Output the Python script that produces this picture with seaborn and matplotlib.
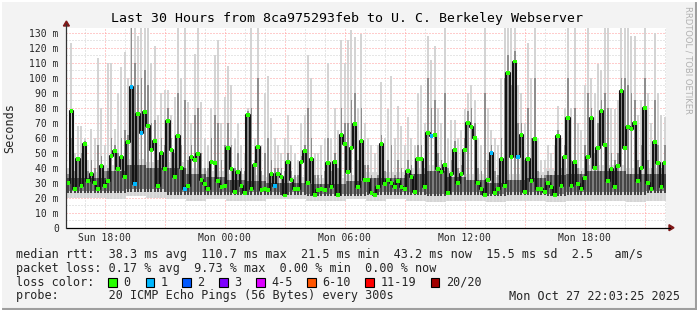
import numpy as np
import pandas as pd
import matplotlib
matplotlib.use("Agg")
import matplotlib.pyplot as plt
import seaborn as sns
from matplotlib.lines import Line2D
from matplotlib.patches import Polygon, Rectangle

sns.set_style("white")
plt.rcParams["font.family"] = ["DejaVu Sans Mono"]

W, H = 697, 310

# ---------------- data ----------------
# time in hours since Sun 00:00, one value per 10-minute step
start_hour = 16.08
step_hours = 1 / 6

median_ms = [
    30, 78, 26, 46, 28, 56, 31, 36, 30, 26, 41, 28, 31, 48, 51, 39, 47, 34, 57, 94, 29, 76, 63, 77, 68, 52, 58, 28, 50, 39,
    71, 52, 34, 61, 40, 26, 28, 47, 45, 49, 32, 29, 26, 44, 43, 31, 27, 28, 53, 39, 24, 37, 28, 23, 75, 26, 42, 54, 25, 26,
    25, 36, 28, 36, 34, 21.5, 44, 32, 26, 26, 44, 51, 30, 46, 22, 25, 26, 25, 43, 27, 44, 22, 62, 56, 37, 53, 69, 27, 58, 32,
    32, 23, 22, 27, 56, 29, 32, 30, 27, 31, 27, 26, 38, 34, 24, 46, 46, 27, 63, 61, 62, 39, 37, 42, 23, 36, 52, 30, 36, 52,
    70, 67, 60, 30, 26, 22, 32, 50, 23, 26, 46, 28, 103, 47, 110.7, 47, 62, 24, 46, 31, 59, 26, 26, 24, 30, 27, 22, 61, 28, 47,
    73, 28, 44, 29, 26, 33, 47, 73, 40, 53, 78, 55, 31, 39, 27, 41, 91, 53, 67, 66, 70, 31, 40, 80, 30, 26, 57, 43, 27, 43.2,
]

loss_count = [
    0, 0, 0, 0, 0, 0, 0, 0, 0, 0, 0, 0, 0, 0, 0, 0, 0, 0, 0, 1, 1, 0, 1, 0, 0, 0, 0, 0, 0, 0,
    0, 0, 0, 0, 0, 1, 0, 0, 0, 0, 0, 0, 0, 0, 0, 0, 0, 0, 0, 0, 0, 0, 0, 0, 0, 0, 0, 0, 0, 0,
    0, 0, 1, 0, 0, 0, 0, 0, 0, 0, 0, 0, 0, 0, 0, 0, 0, 0, 0, 0, 0, 0, 0, 0, 0, 0, 0, 0, 0, 0,
    0, 0, 0, 0, 0, 0, 0, 0, 0, 0, 0, 0, 0, 0, 0, 0, 0, 0, 0, 1, 0, 0, 0, 0, 0, 0, 0, 0, 0, 0,
    0, 0, 0, 0, 0, 0, 0, 1, 0, 0, 0, 0, 0, 0, 0, 1, 0, 0, 0, 0, 0, 0, 0, 0, 0, 0, 0, 0, 0, 0,
    0, 0, 0, 0, 0, 0, 0, 0, 0, 0, 0, 0, 0, 0, 0, 0, 0, 0, 0, 0, 0, 0, 0, 0, 0, 0, 0, 0, 0, 0,
]

smoke_max_ms = [
    40, 123, 50, 68, 68, 60, 45, 66, 60, 113, 80, 55, 110, 110, 66, 90, 107, 117, 100, 135, 135, 128, 135, 135, 135, 110, 121, 75, 90, 92,
    92, 75, 87, 133, 100, 133, 84, 70, 116, 133, 84, 60, 55, 80, 115, 125, 70, 87, 108, 95, 60, 70, 55, 50, 80, 133, 60, 133, 55, 90,
    101, 73, 60, 55, 50, 60, 75, 55, 50, 45, 70, 75, 115, 100, 50, 50, 55, 60, 110, 60, 80, 65, 125, 110, 125, 132, 127, 80, 129, 70,
    60, 55, 50, 55, 97, 60, 79, 101, 60, 81, 68, 55, 74, 60, 55, 90, 95, 70, 128, 112, 121, 80, 70, 133, 60, 72, 72, 60, 65, 79,
    90, 95, 85, 60, 55, 133, 80, 65, 60, 55, 100, 133, 133, 133, 133, 95, 90, 70, 123, 100, 133, 60, 45, 45, 55, 50, 55, 81, 60, 80,
    133, 80, 133, 70, 65, 95, 133, 100, 90, 109, 105, 133, 133, 80, 79, 85, 133, 133, 133, 128, 128, 75, 85, 133, 90, 70, 130, 90, 75, 74,
]

smoke_mid_ms = [
    36, 60, 38, 45, 50, 58, 38, 45, 40, 55, 48, 38, 40, 60, 55, 50, 60, 65, 62, 133, 110, 95, 100, 105, 95, 70, 72, 45, 60, 55,
    80, 60, 50, 90, 55, 85, 45, 55, 75, 80, 50, 40, 40, 60, 75, 70, 45, 55, 70, 55, 40, 50, 40, 38, 78, 80, 45, 100, 38, 50,
    60, 45, 40, 40, 40, 38, 50, 38, 35, 35, 48, 55, 80, 60, 35, 35, 35, 38, 60, 38, 50, 40, 80, 70, 70, 85, 90, 45, 80, 42,
    42, 35, 33, 35, 62, 38, 45, 55, 35, 45, 40, 35, 45, 42, 35, 55, 55, 40, 100, 80, 85, 50, 45, 90, 40, 45, 58, 40, 42, 60,
    78, 80, 70, 40, 38, 90, 45, 55, 38, 35, 60, 100, 115, 95, 118, 70, 70, 45, 80, 60, 100, 38, 35, 35, 38, 35, 38, 65, 40, 55,
    100, 45, 80, 40, 38, 55, 90, 80, 50, 70, 85, 90, 80, 50, 45, 50, 100, 100, 95, 90, 85, 45, 55, 100, 45, 40, 85, 55, 40, 55,
]

# hourly smoke floor and dense core band
hourly_min_ms = [20, 20, 19, 21, 20, 19, 18, 19, 18, 18, 19, 19, 18, 18, 19,
                 18, 19, 18, 17, 18, 18, 17, 18, 18, 17, 18, 18, 18, 17, 18]
hourly_core_lo_ms = [23, 23, 23, 24, 24, 22, 22, 22, 22, 22, 22, 22, 21, 21, 21,
                     22, 22, 22, 21, 22, 22, 21, 22, 22, 21, 22, 22, 22, 22, 23]
hourly_core_hi_ms = [33, 33, 38, 42, 40, 40, 36, 34, 32, 31, 30, 30, 29, 29, 31,
                     33, 33, 36, 38, 34, 32, 30, 32, 33, 35, 36, 38, 38, 36, 36]

x_tick_hours = [18, 24, 30, 36, 42]
x_tick_labels = ["Sun 18:00", "Mon 00:00", "Mon 06:00", "Mon 12:00", "Mon 18:00"]
y_tick_values = [0, 10, 20, 30, 40, 50, 60, 70, 80, 90, 100, 110, 120, 130]
y_tick_labels = ["0", "10 m", "20 m", "30 m", "40 m", "50 m", "60 m", "70 m",
                 "80 m", "90 m", "100 m", "110 m", "120 m", "130 m"]

loss_names = ["0", "1", "2", "3", "4-5", "6-10", "11-19", "20/20"]
loss_colors = ["#26ff00", "#00b8ff", "#0059ff", "#7e00ff", "#dd00ff", "#ff5500", "#ff0000", "#a10000"]

title = "Last 30 Hours from 8ca975293feb to U. C. Berkeley Webserver"
rtt_line = "median rtt:  38.3 ms avg  110.7 ms max  21.5 ms min  43.2 ms now  15.5 ms sd  2.5   am/s"
loss_line = "packet loss: 0.17 % avg  9.73 % max  0.00 % min  0.00 % now"
probe_line = "probe:       20 ICMP Echo Pings (56 Bytes) every 300s"
stamp = "Mon Oct 27 22:03:25 2025"

# ---------------- build frames ----------------
n = len(median_ms)
edges = start_hour + step_hours * np.arange(n + 1)
centers = edges[:-1] + step_hours / 2


def ext(a):
    a = np.asarray(a, dtype=float)
    return np.append(a, a[-1])


smin = np.repeat(hourly_min_ms, 6)[:n].astype(float)
clo = np.repeat(hourly_core_lo_ms, 6)[:n].astype(float)
chi = np.repeat(hourly_core_hi_ms, 6)[:n].astype(float)
smax = np.asarray(smoke_max_ms, float)
smid = np.asarray(smoke_mid_ms, float)


def loss_label(c):
    if c <= 3:
        return loss_names[c]
    if c <= 5:
        return "4-5"
    if c <= 10:
        return "6-10"
    if c <= 19:
        return "11-19"
    return "20/20"


df = pd.DataFrame({"t": centers, "median": median_ms,
                   "loss": [loss_label(c) for c in loss_count]})
line_df = pd.DataFrame({"t": edges, "median": ext(median_ms)})

# ---------------- figure ----------------
fig = plt.figure(figsize=(W / 100, H / 100), dpi=100, facecolor="#f3f3f3")


def fx(px):
    return px / W


def fy(py):
    return 1 - py / H


ax_left, ax_right, ax_top, ax_bot = 66.4, 666.4, 27.7, 227.7
ax = fig.add_axes([fx(ax_left), fy(ax_bot), (ax_right - ax_left) / W, (ax_bot - ax_top) / H])
ax.set_facecolor("white")
ax.set_xlim(start_hour, start_hour + 30)
ax.set_ylim(0, 200 / 1.5)

# grid under the data
for h in range(17, 47):
    col = "#ff9a9a" if h % 3 == 0 else "#cfcfcf"
    ax.axvline(h, color=col, lw=0.72, ls=(0, (1, 2)), zorder=0.5)
for v in range(5, 134, 5):
    col = "#ff9a9a" if v % 10 == 0 else "#cfcfcf"
    ax.axhline(v, color=col, lw=0.72, ls=(0, (1, 2)), zorder=0.5)

# smoke: soft continuous floor band + thin spikes
ax.fill_between(edges, ext(smin), ext(chi + 4), step="post", color="#dcdcdc", lw=0, zorder=1)
bw = step_hours * 0.62
ax.bar(centers, smax - smin, bottom=smin, width=bw, color="#d4d4d4", lw=0, zorder=1.2)
ax.bar(centers, smid - clo, bottom=clo, width=bw * 0.8, color="#8e8e8e", lw=0, zorder=1.5)
ax.fill_between(edges, ext(clo + 1.5), ext(chi), step="post", color="#7e7e7e", lw=0, zorder=2)
ax.bar(centers, chi - clo, bottom=clo, width=bw, color="#454545", lw=0, zorder=2.5)

sns.lineplot(data=line_df, x="t", y="median", drawstyle="steps-post", color="#141414",
             lw=1.5, ax=ax, zorder=4)
sns.scatterplot(data=df, x="t", y="median", hue="loss",
                palette=dict(zip(loss_names, loss_colors)), marker="s", s=7,
                linewidth=0, legend=False, ax=ax, zorder=6)

for s in ax.spines.values():
    s.set_visible(False)

ax.set_xticks(x_tick_hours)
ax.set_xticklabels(x_tick_labels, fontsize=7)
ax.set_yticks(y_tick_values)
ax.set_yticklabels(y_tick_labels, fontsize=7)
ax.tick_params(axis="x", length=2, width=0.72, color="#ff8080", pad=1.5)
ax.tick_params(axis="y", length=2, width=0.72, color="#ff8080", pad=3.5)
ax.set_xlabel("")
ax.set_ylabel("")

# axis lines and arrows
fig.add_artist(Line2D([fx(ax_left), fx(670)], [fy(ax_bot), fy(ax_bot)], color="black", lw=0.9))
fig.add_artist(Line2D([fx(ax_left), fx(ax_left)], [fy(ax_bot), fy(24)], color="#333333", lw=0.9))
fig.add_artist(Polygon([[fx(669), fy(ax_bot - 3)], [fx(669), fy(ax_bot + 3)], [fx(674), fy(ax_bot)]],
                       closed=True, color="#7f1818", transform=fig.transFigure))
fig.add_artist(Polygon([[fx(ax_left - 3), fy(26)], [fx(ax_left + 3), fy(26)], [fx(ax_left), fy(21)]],
                       closed=True, color="#7f1818", transform=fig.transFigure))

# texts
fig.text(fx(347), fy(18.5), title, fontsize=9.5, ha="center", va="center", color="black")
fig.text(fx(10), fy(127.7), "Seconds", fontsize=8.5, rotation=90, ha="center", va="center")
fig.text(fx(688), fy(60), "RRDTOOL / TOBI OETIKER", fontsize=6, rotation=270,
         ha="center", va="center", color="#b0b0b0", family=["DejaVu Sans"])

fs = 8.5
fig.text(fx(16), fy(254.3), rtt_line, fontsize=fs, ha="left", va="center")
fig.text(fx(16), fy(268.3), loss_line, fontsize=fs, ha="left", va="center")
fig.text(fx(16), fy(282.3), "loss color:", fontsize=fs, ha="left", va="center")
box_x = [108.3, 145.7, 182.3, 219.0, 256.0, 307.3, 365.3, 430.7]
for bx, name, col in zip(box_x, loss_names, loss_colors):
    fig.add_artist(Rectangle((fx(bx), fy(286.8)), 8.5 / W, 8.5 / H, facecolor=col,
                             edgecolor="black", lw=0.8, transform=fig.transFigure))
    fig.text(fx(bx + 15), fy(282.3), name, fontsize=fs, ha="left", va="center")
fig.text(fx(16), fy(296.0), probe_line, fontsize=fs, ha="left", va="center")
fig.text(fx(680), fy(296.0), stamp, fontsize=fs, ha="right", va="center")

# 3D frame
fig.add_artist(Line2D([0, 1], [fy(309), fy(309)], color="#9e9e9e", lw=1.5))
fig.add_artist(Line2D([fx(696), fx(696)], [0, 1], color="#9e9e9e", lw=1.5))
fig.add_artist(Line2D([0, 1], [fy(0.7), fy(0.7)], color="white", lw=1.5))
fig.add_artist(Line2D([fx(0.7), fx(0.7)], [0, 1], color="white", lw=1.5))

fig.savefig("out.png", dpi=100, facecolor=fig.get_facecolor())
